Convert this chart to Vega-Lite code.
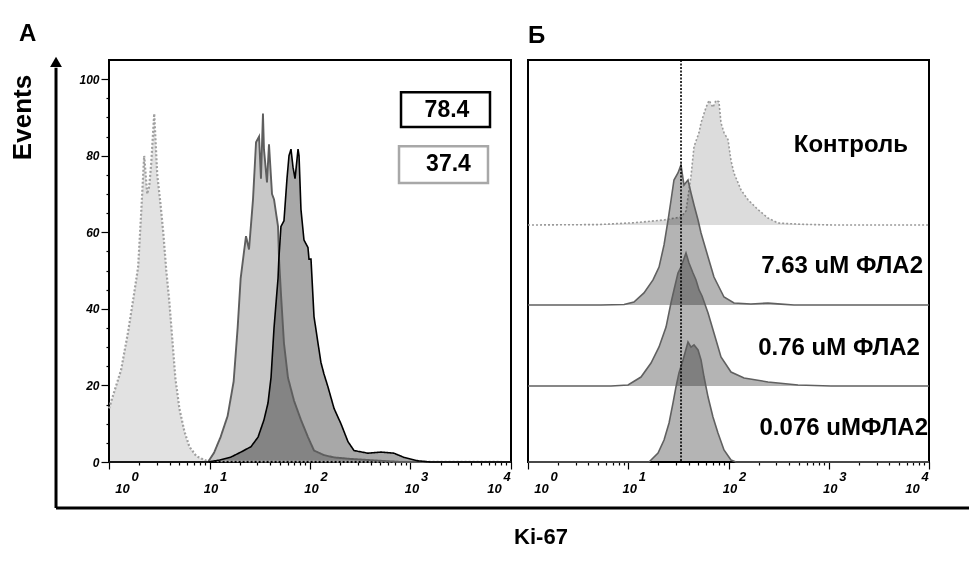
{
  "$schema": "https://vega.github.io/schema/vega-lite/v6.json",
  "background": "white",
  "padding": {"left": 8, "top": 20, "right": 0, "bottom": 5},
  "bounds": "flush",
  "spacing": 17,
  "config": {
    "font": "Liberation Sans",
    "view": {"stroke": "black", "strokeWidth": 2},
    "axis": {"tickColor": "black", "labelColor": "black", "tickWidth": 1.2, "grid": false, "domain": false}
  },
  "title": {"text": "Ki-67", "orient": "bottom", "anchor": "middle", "frame": "group", "fontSize": 22, "fontWeight": "bold", "dx": 432, "offset": 17, "color": "black"},
  "datasets": {
    "A": [
      {"s": "iso", "ki": 1, "ev": 14}, {"s": "iso", "ki": 1.318, "ev": 24}, {"s": "iso", "ki": 1.549, "ev": 34}, {"s": "iso", "ki": 1.778, "ev": 44},
      {"s": "iso", "ki": 1.95, "ev": 51}, {"s": "iso", "ki": 2.089, "ev": 65}, {"s": "iso", "ki": 2.239, "ev": 80}, {"s": "iso", "ki": 2.399, "ev": 70},
      {"s": "iso", "ki": 2.512, "ev": 72}, {"s": "iso", "ki": 2.63, "ev": 78}, {"s": "iso", "ki": 2.818, "ev": 91}, {"s": "iso", "ki": 3.02, "ev": 75},
      {"s": "iso", "ki": 3.236, "ev": 68}, {"s": "iso", "ki": 3.467, "ev": 60}, {"s": "iso", "ki": 3.715, "ev": 50}, {"s": "iso", "ki": 3.981, "ev": 42},
      {"s": "iso", "ki": 4.266, "ev": 32}, {"s": "iso", "ki": 4.571, "ev": 22}, {"s": "iso", "ki": 5.012, "ev": 14}, {"s": "iso", "ki": 5.623, "ev": 8},
      {"s": "iso", "ki": 6.31, "ev": 4}, {"s": "iso", "ki": 7.413, "ev": 1.5}, {"s": "iso", "ki": 9.333, "ev": 0.3}, {"s": "iso", "ki": 15.85, "ev": 0.2},
      {"s": "iso", "ki": 10000, "ev": 0},
      {"s": "p37", "ki": 1, "ev": 0}, {"s": "p37", "ki": 9.66, "ev": 0}, {"s": "p37", "ki": 11.09, "ev": 2.4}, {"s": "p37", "ki": 12.88, "ev": 6.5},
      {"s": "p37", "ki": 15.14, "ev": 12}, {"s": "p37", "ki": 17.38, "ev": 21}, {"s": "p37", "ki": 19.05, "ev": 35}, {"s": "p37", "ki": 20.42, "ev": 48},
      {"s": "p37", "ki": 23.07, "ev": 59}, {"s": "p37", "ki": 24.72, "ev": 55.5}, {"s": "p37", "ki": 27.1, "ev": 68.6}, {"s": "p37", "ki": 29.04, "ev": 83.5},
      {"s": "p37", "ki": 31.12, "ev": 85}, {"s": "p37", "ki": 32.51, "ev": 74}, {"s": "p37", "ki": 34.04, "ev": 91}, {"s": "p37", "ki": 34.83, "ev": 81.7},
      {"s": "p37", "ki": 37.33, "ev": 73}, {"s": "p37", "ki": 39.08, "ev": 83}, {"s": "p37", "ki": 41.88, "ev": 70}, {"s": "p37", "ki": 43.85, "ev": 68.6},
      {"s": "p37", "ki": 48.08, "ev": 61.5}, {"s": "p37", "ki": 49.2, "ev": 53}, {"s": "p37", "ki": 51.4, "ev": 44}, {"s": "p37", "ki": 55.08, "ev": 31},
      {"s": "p37", "ki": 60.39, "ev": 22}, {"s": "p37", "ki": 69.34, "ev": 16}, {"s": "p37", "ki": 81.28, "ev": 11}, {"s": "p37", "ki": 95.5, "ev": 6.5},
      {"s": "p37", "ki": 109.6, "ev": 3}, {"s": "p37", "ki": 137.7, "ev": 1.8}, {"s": "p37", "ki": 173.4, "ev": 1.2}, {"s": "p37", "ki": 255.9, "ev": 0.8},
      {"s": "p37", "ki": 803.5, "ev": 0}, {"s": "p37", "ki": 10000, "ev": 0},
      {"s": "p78", "ki": 1, "ev": 0}, {"s": "p78", "ki": 9.66, "ev": 0}, {"s": "p78", "ki": 12.59, "ev": 0.5}, {"s": "p78", "ki": 16.37, "ev": 1.3},
      {"s": "p78", "ki": 20.56, "ev": 2.6}, {"s": "p78", "ki": 25.88, "ev": 4}, {"s": "p78", "ki": 30.41, "ev": 6.5}, {"s": "p78", "ki": 34.83, "ev": 11},
      {"s": "p78", "ki": 38.19, "ev": 15.4}, {"s": "p78", "ki": 40.93, "ev": 22}, {"s": "p78", "ki": 43.85, "ev": 35}, {"s": "p78", "ki": 48.08, "ev": 48},
      {"s": "p78", "ki": 48.98, "ev": 53}, {"s": "p78", "ki": 51.4, "ev": 61.5}, {"s": "p78", "ki": 55.08, "ev": 63}, {"s": "p78", "ki": 59.02, "ev": 74},
      {"s": "p78", "ki": 61.8, "ev": 80}, {"s": "p78", "ki": 64.71, "ev": 81.7}, {"s": "p78", "ki": 67.76, "ev": 77}, {"s": "p78", "ki": 70.96, "ev": 74},
      {"s": "p78", "ki": 76.03, "ev": 81.7}, {"s": "p78", "ki": 77.8, "ev": 80}, {"s": "p78", "ki": 81.28, "ev": 66}, {"s": "p78", "ki": 87.1, "ev": 58},
      {"s": "p78", "ki": 95.5, "ev": 56}, {"s": "p78", "ki": 97.72, "ev": 53}, {"s": "p78", "ki": 102.3, "ev": 53}, {"s": "p78", "ki": 109.6, "ev": 38},
      {"s": "p78", "ki": 120.2, "ev": 31}, {"s": "p78", "ki": 128.5, "ev": 26}, {"s": "p78", "ki": 137.7, "ev": 23}, {"s": "p78", "ki": 151, "ev": 19.6},
      {"s": "p78", "ki": 173.4, "ev": 14}, {"s": "p78", "ki": 203.2, "ev": 10}, {"s": "p78", "ki": 238.8, "ev": 5.3}, {"s": "p78", "ki": 274.2, "ev": 3},
      {"s": "p78", "ki": 377.6, "ev": 2.3}, {"s": "p78", "ki": 508.2, "ev": 2.6}, {"s": "p78", "ki": 685.5, "ev": 2.3}, {"s": "p78", "ki": 861, "ev": 1.2},
      {"s": "p78", "ki": 1189, "ev": 0.3}, {"s": "p78", "ki": 1585, "ev": 0}, {"s": "p78", "ki": 10000, "ev": 0}
    ],
    "boxes": [
      {"sample": "78.4", "ki": 804.7, "ki2": 6180, "ev": 87.5, "ev2": 96.6},
      {"sample": "37.4", "ki": 768.6, "ki2": 5902, "ev": 72.9, "ev2": 82.5}
    ],
    "boxText": [
      {"label": "78.4", "ki": 2307, "ev": 91.9},
      {"label": "37.4", "ki": 2388, "ev": 77.8}
    ],
    "frame": [
      {"ki": 0.297, "ev": -12, "ki2": 0.297, "ev2": 103},
      {"ki": 0.297, "ev": -12, "ki2": 369000000, "ev2": -12}
    ],
    "arrow": [{"ki": 0.297, "ev": 104.5}],
    "Bctrl": [
      {"ki": 1, "ev": 0}, {"ki": 5, "ev": 0.3}, {"ki": 11.4, "ev": 1.6}, {"ki": 22.75, "ev": 3.6}, {"ki": 33.57, "ev": 5.7}, {"ki": 37.67, "ev": 10},
      {"ki": 42.27, "ev": 35}, {"ki": 45.29, "ev": 56}, {"ki": 50.82, "ev": 66}, {"ki": 53.21, "ev": 73}, {"ki": 59.7, "ev": 84}, {"ki": 63.97, "ev": 89},
      {"ki": 69.98, "ev": 84}, {"ki": 74.99, "ev": 89}, {"ki": 80.35, "ev": 88}, {"ki": 84.14, "ev": 73}, {"ki": 90.16, "ev": 66}, {"ki": 98.86, "ev": 61},
      {"ki": 105.9, "ev": 46}, {"ki": 113.5, "ev": 37}, {"ki": 133.4, "ev": 25}, {"ki": 156.7, "ev": 18}, {"ki": 196.8, "ev": 11}, {"ki": 247.7, "ev": 5},
      {"ki": 311.9, "ev": 1.4}, {"ki": 528.4, "ev": 0.5}, {"ki": 1127, "ev": 0}, {"ki": 10000, "ev": 0}
    ],
    "B763": [
      {"ki": 1, "ev": 0}, {"ki": 5.346, "ev": 0}, {"ki": 9.078, "ev": 0.4}, {"ki": 11.4, "ev": 2.1}, {"ki": 14.35, "ev": 8.6}, {"ki": 17.66, "ev": 17.9},
      {"ki": 20.28, "ev": 27.1}, {"ki": 22.75, "ev": 42.9}, {"ki": 24.95, "ev": 60.7}, {"ki": 26.73, "ev": 75}, {"ki": 28.58, "ev": 89.3}, {"ki": 31.33, "ev": 94.3},
      {"ki": 33.57, "ev": 100}, {"ki": 35.97, "ev": 85.7}, {"ki": 39.45, "ev": 89.3}, {"ki": 42.27, "ev": 80}, {"ki": 45.29, "ev": 71.4}, {"ki": 49.66, "ev": 60.7},
      {"ki": 53.21, "ev": 51.4}, {"ki": 62.52, "ev": 34.3}, {"ki": 71.61, "ev": 20}, {"ki": 90.16, "ev": 5.7}, {"ki": 113.5, "ev": 1.4}, {"ki": 167.5, "ev": 0.7},
      {"ki": 247.7, "ev": 1.4}, {"ki": 334.2, "ev": 0.6}, {"ki": 449.8, "ev": 0}, {"ki": 10000, "ev": 0}
    ],
    "B076": [
      {"ki": 1, "ev": 0}, {"ki": 6.73, "ev": 0}, {"ki": 9.954, "ev": 0.7}, {"ki": 13.4, "ev": 6.4}, {"ki": 16.87, "ev": 16.4}, {"ki": 20.28, "ev": 27.9},
      {"ki": 23.82, "ev": 42.1}, {"ki": 26.67, "ev": 59.3}, {"ki": 28.58, "ev": 68.6}, {"ki": 31.33, "ev": 80.7}, {"ki": 33.57, "ev": 85}, {"ki": 37.67, "ev": 95},
      {"ki": 40.36, "ev": 87.9}, {"ki": 44.26, "ev": 80.7}, {"ki": 47.42, "ev": 75.7}, {"ki": 50.82, "ev": 68.6}, {"ki": 54.45, "ev": 64.3}, {"ki": 62.52, "ev": 52.1},
      {"ki": 71.61, "ev": 37.9}, {"ki": 84.14, "ev": 20.7}, {"ki": 105.9, "ev": 10}, {"ki": 142.9, "ev": 5.7}, {"ki": 247.7, "ev": 2.9}, {"ki": 493.2, "ev": 0.7},
      {"ki": 1052, "ev": 0}, {"ki": 10000, "ev": 0}
    ],
    "B0076": [
      {"ki": 1, "ev": 0}, {"ki": 16.11, "ev": 0}, {"ki": 19.82, "ev": 6.4}, {"ki": 22.75, "ev": 15.7}, {"ki": 25.53, "ev": 27.9}, {"ki": 27.93, "ev": 42.1},
      {"ki": 29.92, "ev": 53.6}, {"ki": 32.06, "ev": 63.6}, {"ki": 35.16, "ev": 72.9}, {"ki": 39.45, "ev": 85.7}, {"ki": 42.27, "ev": 82.1}, {"ki": 45.29, "ev": 83.6},
      {"ki": 49.66, "ev": 80}, {"ki": 53.21, "ev": 72.9}, {"ki": 57.02, "ev": 60.7}, {"ki": 62.52, "ev": 46.4}, {"ki": 69.98, "ev": 32.1}, {"ki": 78.52, "ev": 20.7},
      {"ki": 90.16, "ev": 8.6}, {"ki": 105.9, "ev": 1.4}, {"ki": 118.9, "ev": 0}, {"ki": 10000, "ev": 0}
    ]
  },
  "hconcat": [
    {
      "width": 402,
      "height": 402,
      "title": {"text": "А", "anchor": "start", "frame": "group", "dx": -90, "fontSize": 24, "fontWeight": "bold", "offset": -8, "baseline": "alphabetic", "color": "black"},
      "encoding": {
        "x": {
          "field": "ki", "type": "quantitative",
          "scale": {"type": "log", "domain": [1, 10000], "nice": false},
          "axis": {
            "title": null,
            "values": [1,2,3,4,5,6,7,8,9,10,20,30,40,50,60,70,80,90,100,200,300,400,500,600,700,800,900,1000,2000,3000,4000,5000,6000,7000,8000,9000,10000],
            "labelExpr": "indexof([1,10,100,1000,10000], datum.value) >= 0 ? ['\u200b\u00a0\u00a0\u00a0\u00a0\u00a0\u00a0\u00a0' + format(round(log(datum.value)/LN10), 'd'), '10'] : ''",
            "tickSize": {"condition": {"test": "indexof([1,10,100,1000,10000], datum.value) >= 0", "value": 7}, "value": 3},
            "labelOffset": {"condition": [{"test": "datum.value == 1", "value": 13}, {"test": "datum.value == 10000", "value": -17}], "value": 1},
            "labelFontSize": 13, "labelFontStyle": "italic", "labelFontWeight": "bold",
            "labelLineHeight": 12, "labelPadding": 1, "labelBaseline": "top",
            "labelFlush": false, "labelOverlap": false, "labelBound": false
          }
        },
        "y": {
          "field": "ev", "type": "quantitative", "stack": null,
          "scale": {"domain": [0, 105], "nice": false, "zero": false},
          "axis": {
            "values": [0,5,10,15,20,25,30,35,40,45,50,55,60,65,70,75,80,85,90,95,100],
            "labelExpr": "datum.value % 20 == 0 ? datum.label : ''",
            "tickSize": {"condition": {"test": "datum.value % 20 == 0", "value": 8}, "value": 3},
            "labelFontSize": 12, "labelFontStyle": "italic", "labelFontWeight": "bold", "labelPadding": 2,
            "labelOverlap": false, "labelFlush": false,
            "title": "Events", "titleX": -79, "titleY": 57, "titleAngle": -90, "titleAlign": "center", "titleBaseline": "alphabetic",
            "titleFontSize": 26, "titleFontWeight": "bold", "titleColor": "black"
          }
        }
      },
      "layer": [
        {
          "data": {"name": "A"},
          "mark": {"type": "area", "interpolate": "linear", "blend": "multiply"},
          "encoding": {
            "color": {"field": "s", "type": "nominal", "scale": {"domain": ["iso", "p37", "p78"], "range": ["#e2e2e2", "#c8c8c8", "#a8a8a8"]}, "legend": null}
          }
        },
        {
          "data": {"name": "A"},
          "mark": {"type": "line", "interpolate": "linear"},
          "encoding": {
            "stroke": {"field": "s", "type": "nominal", "scale": {"domain": ["iso", "p37", "p78"], "range": ["#a0a0a0", "#5e5e5e", "#000000"]}, "legend": null},
            "strokeDash": {"field": "s", "type": "nominal", "scale": {"domain": ["iso", "p37", "p78"], "range": [[2, 2], [1, 0], [1, 0]]}, "legend": null},
            "strokeWidth": {"field": "s", "type": "nominal", "scale": {"domain": ["iso", "p37", "p78"], "range": [2.2, 1.6, 2]}, "legend": null}
          }
        },
        {
          "data": {"name": "boxes"},
          "transform": [{"filter": "datum.sample == '78.4'"}],
          "mark": {"type": "rect", "fill": "white", "stroke": "black", "strokeWidth": 2.5},
          "encoding": {"x2": {"field": "ki2"}, "y2": {"field": "ev2"}}
        },
        {
          "data": {"name": "boxes"},
          "transform": [{"filter": "datum.sample == '37.4'"}],
          "mark": {"type": "rect", "fill": "white", "stroke": "#a8a8a8", "strokeWidth": 2.5},
          "encoding": {"x2": {"field": "ki2"}, "y2": {"field": "ev2"}}
        },
        {
          "data": {"name": "boxText"},
          "mark": {"type": "text", "fontSize": 23, "fontWeight": "bold", "align": "center", "baseline": "middle", "color": "black"},
          "encoding": {"text": {"field": "label"}}
        },
        {
          "data": {"name": "frame"},
          "mark": {"type": "rule", "color": "black", "strokeWidth": 3, "clip": false},
          "encoding": {"x2": {"field": "ki2"}, "y2": {"field": "ev2"}}
        },
        {
          "data": {"name": "arrow"},
          "mark": {"type": "point", "shape": "triangle-up", "filled": true, "color": "black", "opacity": 1, "size": 140, "clip": false}
        }
      ]
    },
    {
      "width": 401,
      "height": 402,
      "title": {"text": "Б", "anchor": "start", "frame": "group", "dx": 0, "fontSize": 24, "fontWeight": "bold", "offset": -8, "baseline": "alphabetic", "color": "black"},
      "encoding": {
        "x": {
          "field": "ki", "type": "quantitative",
          "scale": {"type": "log", "domain": [1, 10000], "nice": false},
          "axis": {
            "title": null,
            "values": [1,2,3,4,5,6,7,8,9,10,20,30,40,50,60,70,80,90,100,200,300,400,500,600,700,800,900,1000,2000,3000,4000,5000,6000,7000,8000,9000,10000],
            "labelExpr": "indexof([1,10,100,1000,10000], datum.value) >= 0 ? ['\u200b\u00a0\u00a0\u00a0\u00a0\u00a0\u00a0\u00a0' + format(round(log(datum.value)/LN10), 'd'), '10'] : ''",
            "tickSize": {"condition": {"test": "indexof([1,10,100,1000,10000], datum.value) >= 0", "value": 7}, "value": 3},
            "labelOffset": {"condition": [{"test": "datum.value == 1", "value": 13}, {"test": "datum.value == 10000", "value": -17}], "value": 1},
            "labelFontSize": 13, "labelFontStyle": "italic", "labelFontWeight": "bold",
            "labelLineHeight": 12, "labelPadding": 1, "labelBaseline": "top",
            "labelFlush": false, "labelOverlap": false, "labelBound": false
          }
        }
      },
      "layer": [
        {
          "data": {"name": "Bctrl"},
          "encoding": {"y": {"field": "ev", "type": "quantitative", "stack": null, "scale": {"domain": [-169.29, 117.86], "nice": false, "zero": false}, "axis": null}},
          "layer": [
            {"mark": {"type": "area", "interpolate": "linear", "color": "#dcdcdc", "blend": "multiply"}},
            {"mark": {"type": "line", "interpolate": "linear", "color": "#9a9a9a", "strokeWidth": 1.6, "strokeDash": [2, 2]}},
            {
              "data": {"values": [{"ki": 6180, "ev": 52.1, "label": "Контроль"}]},
              "mark": {"type": "text", "fontSize": 24, "fontWeight": "bold", "align": "right", "baseline": "alphabetic", "color": "black"},
              "encoding": {"text": {"field": "label"}}
            }
          ]
        },
        {
          "data": {"name": "B763"},
          "encoding": {"y": {"field": "ev", "type": "quantitative", "stack": null, "scale": {"domain": [-112.14, 175.0], "nice": false, "zero": false}, "axis": null}},
          "layer": [
            {"mark": {"type": "area", "interpolate": "linear", "color": "#b4b4b4", "blend": "multiply"}},
            {"mark": {"type": "line", "interpolate": "linear", "color": "#606060", "strokeWidth": 1.6}},
            {
              "data": {"values": [{"ki": 8710, "ev": 22.9, "label": "7.63 uM ФЛА2"}]},
              "mark": {"type": "text", "fontSize": 24, "fontWeight": "bold", "align": "right", "baseline": "alphabetic", "color": "black"},
              "encoding": {"text": {"field": "label"}}
            }
          ]
        },
        {
          "data": {"name": "B076"},
          "encoding": {"y": {"field": "ev", "type": "quantitative", "stack": null, "scale": {"domain": [-54.29, 232.86], "nice": false, "zero": false}, "axis": null}},
          "layer": [
            {"mark": {"type": "area", "interpolate": "linear", "color": "#b4b4b4", "blend": "multiply"}},
            {"mark": {"type": "line", "interpolate": "linear", "color": "#606060", "strokeWidth": 1.6}},
            {
              "data": {"values": [{"ki": 8128, "ev": 22.1, "label": "0.76 uM ФЛА2"}]},
              "mark": {"type": "text", "fontSize": 24, "fontWeight": "bold", "align": "right", "baseline": "alphabetic", "color": "black"},
              "encoding": {"text": {"field": "label"}}
            }
          ]
        },
        {
          "data": {"name": "B0076"},
          "encoding": {"y": {"field": "ev", "type": "quantitative", "stack": null, "scale": {"domain": [0, 287.14], "nice": false, "zero": false}, "axis": null}},
          "layer": [
            {"mark": {"type": "area", "interpolate": "linear", "color": "#b4b4b4", "blend": "multiply"}},
            {"mark": {"type": "line", "interpolate": "linear", "color": "#606060", "strokeWidth": 1.6}},
            {
              "data": {"values": [{"ki": 9772, "ev": 19.3, "label": "0.076 uMФЛА2"}]},
              "mark": {"type": "text", "fontSize": 24, "fontWeight": "bold", "align": "right", "baseline": "alphabetic", "color": "black"},
              "encoding": {"text": {"field": "label"}}
            }
          ]
        },
        {
          "data": {"values": [{"ki": 33.6}]},
          "mark": {"type": "rule", "color": "black", "strokeWidth": 1.6, "strokeDash": [2, 1.5]}
        }
      ],
      "resolve": {"scale": {"y": "independent"}}
    }
  ]
}
